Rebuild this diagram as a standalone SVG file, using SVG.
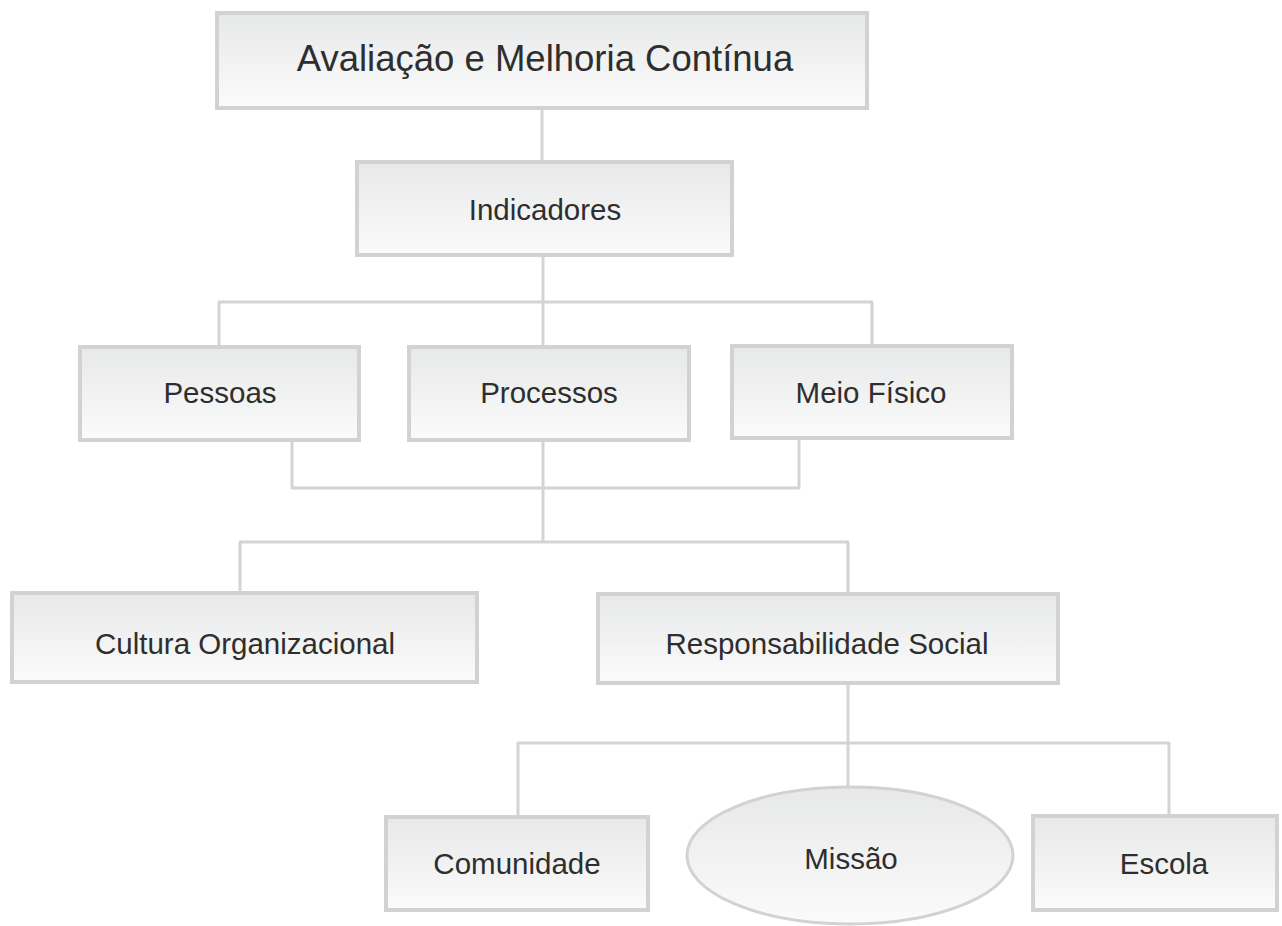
<svg xmlns="http://www.w3.org/2000/svg" width="1282" height="926" viewBox="0 0 1282 926">
<defs>
<linearGradient id="g" x1="0" y1="0" x2="0" y2="1">
<stop offset="0" stop-color="#e7e8e9"/>
<stop offset="1" stop-color="#fbfbfb"/>
</linearGradient>
<style>
.box{fill:url(#g);stroke:#d2d2d2;stroke-width:4}
.lbl{font-family:"Liberation Sans",Arial,sans-serif;font-size:29.5px;fill:#2e2e2e;text-anchor:middle}
.con path{fill:none;stroke:#d4d4d4;stroke-width:3;stroke-linejoin:round}
</style>
</defs>
<rect width="1282" height="926" fill="#ffffff"/>
<g class="con" id="connectors">
<path d="M542 108 V162"/>
<path d="M543 255 V347"/>
<path d="M219 347 V302 H872 V346"/>
<path d="M292 440 V488 H799 V438"/>
<path d="M543 440 V542"/>
<path d="M240 593 V542 H848 V594"/>
<path d="M848 683 V787"/>
<path d="M518 817 V743 H1169 V816"/>
</g>
<g id="n-avaliacao"><rect class="box" x="217" y="13" width="650" height="95"/><text class="lbl" x="545" y="71" style="font-size:36.5px">Avaliação e Melhoria Contínua</text></g>
<g id="n-indicadores"><rect class="box" x="357" y="162" width="375" height="93"/><text class="lbl" x="545" y="220">Indicadores</text></g>
<g id="n-pessoas"><rect class="box" x="80" y="347" width="279" height="93"/><text class="lbl" x="220" y="403">Pessoas</text></g>
<g id="n-processos"><rect class="box" x="409" y="347" width="280" height="93"/><text class="lbl" x="549" y="403">Processos</text></g>
<g id="n-meio"><rect class="box" x="732" y="346" width="280" height="92"/><text class="lbl" x="871" y="403">Meio Físico</text></g>
<g id="n-cultura"><rect class="box" x="12" y="593" width="465" height="89"/><text class="lbl" x="245" y="654">Cultura Organizacional</text></g>
<g id="n-responsabilidade"><rect class="box" x="598" y="594" width="460" height="89"/><text class="lbl" x="827" y="654">Responsabilidade Social</text></g>
<g id="n-comunidade"><rect class="box" x="386" y="817" width="262" height="93"/><text class="lbl" x="517" y="874">Comunidade</text></g>
<g id="n-missao"><ellipse class="box" cx="850" cy="855.5" rx="163" ry="68.5" style="stroke-width:3"/><text class="lbl" x="851" y="869">Missão</text></g>
<g id="n-escola"><rect class="box" x="1033" y="816" width="244" height="94"/><text class="lbl" x="1164" y="874">Escola</text></g>
</svg>
